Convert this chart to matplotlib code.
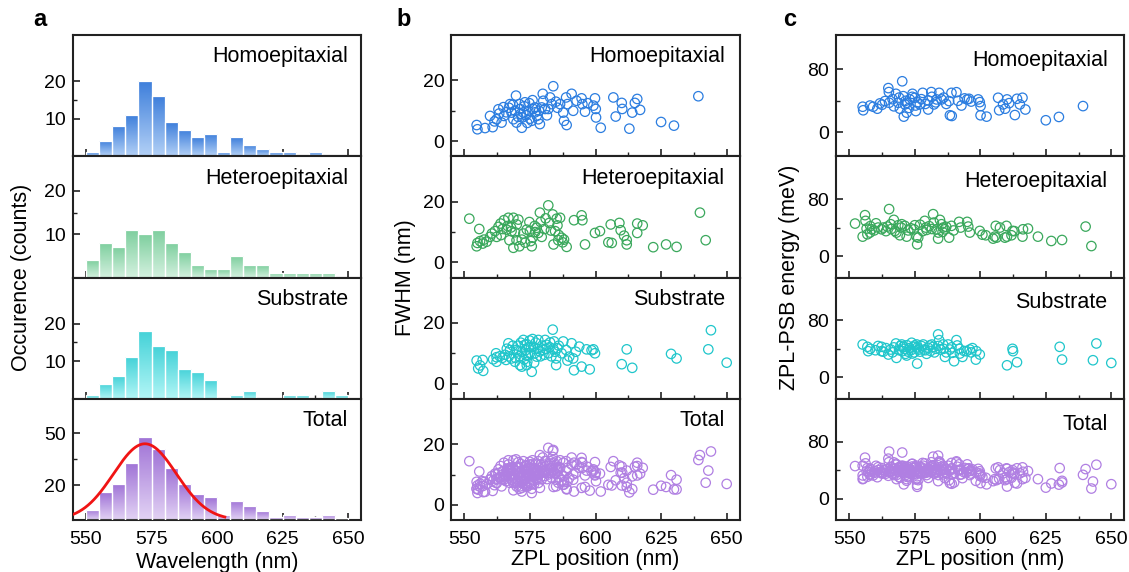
import numpy as np
import matplotlib
matplotlib.use('Agg')
import matplotlib.pyplot as plt
from matplotlib.colors import LinearSegmentedColormap

plt.rcParams['font.family'] = ['Liberation Sans', 'DejaVu Sans']

# ---- histogram counts (5 nm bins from 550 to 650) ----
bin_left = np.arange(550, 650, 5)
homo_counts = [1, 4, 8, 11, 20, 16, 9, 7, 5, 6, 1, 5, 3, 2, 1, 1, 0, 1, 0, 0]
hetero_counts = [4, 8, 7, 11, 10, 11, 8, 6, 3, 2, 2, 5, 3, 3, 1, 1, 1, 1, 1, 0]
sub_counts = [1, 4, 6, 11, 18, 14, 13, 8, 7, 5, 0, 1, 2, 0, 0, 1, 1, 0, 2, 1]

# gaussian fit on total histogram
fit_amp = 44.0
fit_center = 572.5
fit_sigma = 12.0
fit_range = (545, 603)

# ---- FWHM vs ZPL (panel b) ----
homo_fw_x = [554.7, 555.0, 557.9, 559.8, 560.8, 562.3, 563.3, 564.2, 564.9, 565.1, 567.4, 568.0, 568.7,
             569.3, 569.7, 569.9, 571.0, 571.2, 571.9, 572.1, 572.5, 573.1, 574.4, 575.0, 575.7, 576.3,
             576.9, 577.6, 578.2, 578.8, 579.5, 579.9, 580.1, 580.8, 582.0, 582.7, 583.3, 583.9, 584.9,
             586.5, 587.7, 588.0, 588.8, 589.0, 589.3, 590.9, 592.8, 594.7, 595.0, 596.0, 599.2, 599.8,
             600.1, 600.2, 602.0, 606.8, 607.7, 610.0, 610.2, 612.9, 614.0, 615.0, 615.9, 617.0, 625.0,
             629.9, 639.2, 561.5, 563.0, 566.0, 567.0, 568.5, 570.5, 571.5, 572.8, 573.5, 574.0, 574.8,
             576.0, 577.0, 578.5, 581.5, 585.5, 591.5, 597.0]
homo_fw_y = [5.3, 3.9, 4.3, 8.3, 4.6, 7.2, 9.1, 6.1, 11.2, 8.3, 12.2, 9.4, 7.2, 10.0, 15.0, 6.1, 12.2,
             10.6, 4.4, 7.8, 9.4, 12.8, 10.0, 7.4, 6.7, 10.6, 11.1, 8.3, 7.2, 5.6, 11.1, 15.6, 13.3, 10.6,
             10.6, 14.4, 12.2, 18.1, 13.0, 12.2, 9.4, 6.7, 14.4, 5.3, 12.2, 15.6, 13.3, 14.1, 12.2, 9.7,
             11.7, 14.1, 10.6, 7.8, 4.4, 14.4, 8.1, 12.6, 10.6, 4.1, 9.4, 12.6, 13.9, 10.3, 6.3, 5.1, 14.8,
             6.5, 10.5, 9.5, 11.0, 12.0, 8.0, 9.0, 11.5, 8.5, 6.0, 12.5, 13.5, 9.5, 10.0, 8.5, 11.0, 10.0,
             12.5]

hetero_fw_x = [551.9, 554.7, 555.0, 555.7, 556.0, 557.0, 557.5, 559.8, 561.7, 562.3, 563.0, 563.8, 564.6,
               565.1, 566.1, 566.8, 567.2, 568.0, 568.7, 568.7, 569.3, 569.9, 570.6, 571.0, 571.9, 573.8,
               574.8, 575.0, 575.3, 575.7, 576.0, 577.6, 578.2, 578.8, 579.1, 579.5, 582.0, 582.4, 583.7,
               584.0, 584.6, 585.2, 585.5, 585.8, 586.5, 587.1, 587.5, 589.0, 591.8, 594.7, 595.0, 596.0,
               599.8, 601.7, 604.9, 605.8, 606.2, 609.1, 609.6, 610.9, 611.9, 611.9, 615.9, 615.9, 618.0,
               622.0, 626.9, 630.9, 639.8, 642.0, 558.5, 560.5, 564.0, 566.5, 567.8, 570.0, 572.5, 573.2,
               576.8, 577.0, 580.5, 581.0, 583.0, 586.0, 588.0]
hetero_fw_y = [14.4, 5.3, 6.4, 11.0, 7.0, 6.2, 7.5, 8.4, 10.3, 8.4, 11.7, 12.8, 11.0, 13.9, 10.8, 14.7,
               7.3, 10.3, 14.7, 4.8, 9.9, 7.3, 14.1, 5.3, 7.5, 10.8, 13.3, 10.3, 7.0, 5.3, 8.1, 11.4, 9.7,
               16.4, 13.3, 8.4, 18.8, 13.0, 15.8, 5.9, 10.3, 14.4, 12.2, 7.3, 14.7, 8.1, 6.6, 5.1, 13.9,
               15.5, 13.9, 5.9, 9.7, 10.3, 6.6, 12.5, 6.4, 13.0, 10.6, 8.8, 7.3, 5.9, 12.8, 9.7, 12.2, 5.0,
               5.9, 5.1, 16.4, 7.3, 6.8, 9.5, 9.0, 12.0, 11.5, 12.5, 9.5, 6.5, 12.0, 10.0, 11.0, 14.5, 10.5,
               9.0, 7.5]

sub_fw_x = [554.7, 555.3, 557.0, 557.2, 562.1, 562.3, 562.3, 565.9, 566.8, 567.4, 568.0, 569.3, 569.9,
            570.2, 571.2, 571.9, 572.5, 573.1, 573.5, 573.8, 574.0, 575.0, 575.7, 576.0, 576.3, 576.6,
            577.6, 578.2, 578.8, 580.1, 580.8, 581.4, 582.7, 583.7, 584.2, 585.0, 585.0, 585.5, 587.1,
            587.7, 588.8, 589.3, 590.0, 590.9, 591.5, 591.8, 593.8, 594.7, 596.6, 597.8, 599.2, 599.8,
            610.0, 611.9, 614.0, 628.8, 630.9, 643.0, 644.0, 650.0,
            556.0, 561.0, 563.5, 564.5, 565.5, 566.2, 567.0, 568.5, 569.5, 570.5, 571.0, 571.5, 572.0,
            572.8, 573.3, 573.8, 574.3, 574.6, 574.9, 575.4, 576.8, 577.2, 578.0, 579.0, 579.6, 580.5,
            581.0, 582.0, 582.5, 583.2, 583.9, 584.6, 586.0, 592.5, 598.5]
sub_fw_y = [7.6, 5.0, 7.8, 4.2, 10.0, 8.7, 7.2, 7.8, 13.3, 11.1, 8.3, 7.2, 11.1, 10.6, 6.1, 5.6, 14.4,
            12.8, 9.4, 6.1, 7.2, 10.0, 3.9, 14.7, 12.2, 6.9, 8.9, 14.4, 10.6, 11.1, 14.4, 12.8, 13.6,
            17.8, 13.9, 8.3, 6.1, 11.7, 10.0, 13.9, 11.1, 7.6, 8.9, 13.3, 8.3, 4.4, 12.2, 5.6, 11.3, 4.7,
            11.3, 10.0, 6.4, 11.3, 5.2, 9.8, 8.3, 11.3, 17.6, 6.9,
            6.0, 8.0, 9.0, 8.5, 9.5, 11.5, 9.0, 12.5, 8.5, 12.5, 9.0, 13.5, 10.5, 8.0, 11.0, 13.0, 9.5,
            12.0, 14.2, 12.0, 10.0, 13.5, 11.5, 9.0, 12.5, 9.5, 11.5, 10.0, 12.0, 9.0, 11.5, 10.5, 12.5,
            10.5, 11.0]

# ---- ZPL-PSB energy vs ZPL (panel c) ----
homo_en_x = [555.1, 555.3, 557.9, 559.1, 560.7, 561.7, 563.6, 564.9, 565.1, 565.2, 567.8, 568.7, 569.3,
             570.2, 570.6, 570.8, 571.2, 571.9, 572.1, 573.1, 574.1, 575.0, 575.3, 575.4, 576.9, 578.0,
             580.1, 580.2, 581.3, 582.3, 583.3, 584.3, 585.2, 588.1, 588.4, 589.1, 589.0, 590.9, 592.8,
             595.0, 595.7, 599.2, 599.8, 600.1, 600.1, 602.4, 606.8, 607.2, 608.7, 610.2, 613.2, 614.0,
             615.1, 616.1, 617.2, 625.0, 630.0, 639.2,
             562.5, 566.5, 567.0, 569.0, 571.5, 572.8, 574.0, 576.0, 577.5, 579.0, 581.5, 583.0, 586.0,
             587.0, 591.5, 594.0, 596.5, 609.5, 611.0]
homo_en_y = [32.5, 28, 34, 32.5, 30, 36.7, 39.6, 56, 51, 37.5, 48.8, 37.5, 30, 64.6, 45.8, 20, 35.4, 25,
             37.5, 41.7, 48.8, 43.8, 34, 27, 35.4, 50, 29, 40.4, 51, 35.4, 41.7, 50, 41.7, 39.6, 21.7,
             20.8, 50, 50.8, 34, 41.7, 42.5, 41.7, 38.3, 33.3, 21.7, 20, 43.8, 28, 35.4, 41.7, 22, 42.5,
             35.4, 43.8, 29, 15.4, 19.6, 33.3,
             35, 42, 33, 44, 40, 31, 45, 38, 42, 36, 45, 38, 44, 36, 40, 43, 39, 30, 37]

hetero_en_x = [552.2, 555.1, 556.0, 556.2, 556.6, 556.9, 557.9, 558.5, 560.2, 562.3, 563.0, 564.5, 565.2,
               565.8, 567.0, 567.4, 568.7, 569.3, 570.0, 571.2, 571.9, 574.7, 575.0, 575.7, 575.9, 576.3,
               578.8, 579.2, 579.5, 582.0, 582.3, 583.3, 583.9, 584.6, 585.2, 585.6, 585.8, 586.5, 588.1,
               589.0, 591.9, 595.0, 595.4, 596.0, 599.8, 602.1, 604.9, 605.5, 605.9, 606.2, 609.4, 610.0,
               610.2, 611.9, 612.3, 616.1, 616.3, 618.2, 622.0, 627.1, 631.2, 640.2, 642.4,
               558.0, 559.5, 561.0, 564.0, 566.0, 568.0, 569.8, 572.5, 573.5, 577.0, 578.0, 580.5, 581.5,
               584.0, 587.0, 589.8, 592.5, 600.8, 607.5, 613.0]
hetero_en_y = [45.6, 27.3, 57.4, 49.4, 38.6, 30.6, 33, 37.6, 46, 37.6, 40, 41.4, 65.9, 44.7, 50.8, 35.3,
               43.3, 29.2, 44.7, 42.4, 27.3, 37.6, 43.3, 27.3, 16.5, 25.9, 49.4, 40, 36.7, 58.8, 47, 37.6,
               24.5, 50.8, 44.7, 33.9, 40, 37.6, 25.9, 42.4, 48, 48, 41.4, 33, 35.3, 29.2, 24.5, 27.3, 42.4,
               25.9, 25.9, 42.4, 27.3, 29.2, 35.3, 27.3, 37.6, 38.6, 27.3, 21.2, 22.6, 41.4, 14.1,
               42, 36, 40, 35, 38, 33, 40, 36, 39, 44, 35, 42, 38, 33, 41, 36, 40, 30, 40, 35]

sub_en_x = [555.1, 556.9, 557.2, 562.3, 562.3, 564.9, 565.8, 567.8, 568.0, 570.0, 570.3, 570.6, 571.9,
            573.8, 574.1, 574.4, 575.0, 575.7, 575.9, 576.7, 578.2, 578.5, 580.1, 580.7, 582.0, 583.9,
            584.3, 584.8, 585.8, 586.5, 587.7, 588.4, 589.4, 590.0, 590.9, 591.2, 592.2, 593.2, 594.7,
            596.0, 598.3, 598.5, 599.8, 610.2, 612.3, 612.5, 614.0, 630.3, 631.2, 643.0, 644.3, 650.0,
            566.5, 567.0, 569.0, 569.5, 571.0, 572.0, 572.5, 573.0, 573.5, 574.8, 571.5, 576.0, 577.0,
            577.5, 579.0, 579.5, 581.0, 581.5, 582.5, 583.0, 584.0, 586.0, 587.0, 589.0, 592.0, 593.8,
            596.5, 597.0, 558.0, 560.0, 561.0, 563.0, 564.0]
sub_en_y = [46.1, 42.8, 36.7, 42.8, 36.7, 32, 39, 47.5, 27.3, 46.1, 36.7, 42.8, 30.6, 48.5, 33.4, 42.8,
            44.7, 46.1, 19.3, 39, 46.1, 39, 41.4, 44.7, 42.8, 60.2, 52.2, 39, 46.1, 28.7, 46.1, 39, 34.4,
            22.6, 52.2, 44.7, 33.4, 28.7, 36.7, 39, 24.9, 36.7, 32, 16.9, 40, 36.7, 21.2, 42.8, 24.9, 24,
            47.5, 20.2,
            35, 42, 38, 44, 40, 45, 36, 41, 38, 35, 33, 42, 36, 44, 38, 33, 37, 46, 35, 40, 44, 40, 35,
            42, 40, 37, 35, 41, 40, 38, 44, 36, 41]

group_names = ['Homoepitaxial', 'Heteroepitaxial', 'Substrate', 'Total']
bar_top = ['#3d7edb', '#7fcf9f', '#45d2d8', '#9f72d6']
bar_bottom = ['#b2d0f6', '#d4f1df', '#b2f6f6', '#e2d2f4']
dot_colors = ['#2b7de0', '#3aa85c', '#1fc6cb', '#b07fe2']

W, H = 1129, 572
rows = [35, 156.25, 277.5, 398.75, 520]
cols = [(72.9, 361.1), (451.2, 739.8), (836.2, 1124.4)]

fig = plt.figure(figsize=(W / 100, H / 100), dpi=100)


def make_ax(col, row):
    x0, x1 = cols[col]
    y0, y1 = rows[row], rows[row + 1]
    ax = fig.add_axes([x0 / W, 1 - y1 / H, (x1 - x0) / W, (y1 - y0) / H])
    for s in ax.spines.values():
        s.set_linewidth(1.5)
        s.set_color('#222222')
    ax.set_xlim(545, 655)
    ax.set_xticks([550, 575, 600, 625, 650])
    ax.set_xticks(np.arange(562.5, 650, 25), minor=True)
    ax.tick_params(direction='in', length=5, width=1.2, labelsize=14, pad=5, color='#222222')
    ax.tick_params(axis='x', pad=8)
    ax.tick_params(which='minor', direction='in', length=3, width=1.0, color='#222222')
    if row < 3:
        ax.tick_params(labelbottom=False)
    return ax


def grad_bars(ax, counts, c_top, c_bot):
    cmap = LinearSegmentedColormap.from_list('g', [c_bot, c_top])
    grad = np.linspace(0, 1, 64).reshape(-1, 1)
    bars = ax.bar(bin_left, counts, width=5, align='edge', color='none',
                  edgecolor='white', linewidth=0.9, zorder=3)
    for b in bars:
        h = b.get_height()
        if h <= 0:
            continue
        im = ax.imshow(grad, extent=[b.get_x(), b.get_x() + b.get_width(), 0, h],
                       origin='lower', cmap=cmap, aspect='auto', zorder=2)
        im.set_clip_path(b)


total_counts = np.array(homo_counts) + np.array(hetero_counts) + np.array(sub_counts)
hist_data = [homo_counts, hetero_counts, sub_counts, total_counts]
hist_ylim = [(0, 32.3), (0, 28), (0, 32.3), (0, 70)]
hist_yticks = [[10, 20], [10, 20], [10, 20], [20, 50]]
hist_minor = [[15], [15], [15], [35]]

fw_x = [homo_fw_x, hetero_fw_x, sub_fw_x, homo_fw_x + hetero_fw_x + sub_fw_x]
fw_y = [homo_fw_y, hetero_fw_y, sub_fw_y, homo_fw_y + hetero_fw_y + sub_fw_y]
en_x = [homo_en_x, hetero_en_x, sub_en_x, homo_en_x + hetero_en_x + sub_en_x]
en_y = [homo_en_y, hetero_en_y, sub_en_y, homo_en_y + hetero_en_y + sub_en_y]
en_ylim = [(-30, 123), (-30, 140), (-30, 140), (-30, 140)]

for i in range(4):
    # panel a
    ax = make_ax(0, i)
    grad_bars(ax, hist_data[i], bar_top[i], bar_bottom[i])
    ax.set_xlim(545, 655)
    ax.set_ylim(*hist_ylim[i])
    ax.set_yticks(hist_yticks[i])
    ax.set_yticks(hist_minor[i], minor=True)
    ax.text(0.955, 0.82, group_names[i], transform=ax.transAxes, ha='right', va='center', fontsize=15.5)
    if i == 3:
        xf = np.linspace(fit_range[0], fit_range[1], 300)
        yf = fit_amp * np.exp(-(xf - fit_center) ** 2 / (2 * fit_sigma ** 2))
        ax.plot(xf, yf, color='#f01414', lw=2.0, zorder=5)
        ax.set_xlabel('Wavelength (nm)', fontsize=15.5, labelpad=3)

    # panel b
    ax = make_ax(1, i)
    ax.scatter(fw_x[i], fw_y[i], s=46, facecolors='none', edgecolors=dot_colors[i], linewidths=0.9)
    ax.set_xlim(545, 655)
    ax.set_ylim(-5, 35)
    ax.set_yticks([0, 20])
    ax.set_yticks([10], minor=True)
    ax.text(0.948, 0.82, group_names[i], transform=ax.transAxes, ha='right', va='center', fontsize=15.5)
    if i == 3:
        ax.set_xlabel('ZPL position (nm)', fontsize=15.5, labelpad=1)

    # panel c
    ax = make_ax(2, i)
    ax.scatter(en_x[i], en_y[i], s=46, facecolors='none', edgecolors=dot_colors[i], linewidths=0.9)
    ax.set_xlim(545, 655)
    ax.set_ylim(*en_ylim[i])
    ax.set_yticks([0, 80])
    ax.set_yticks([40], minor=True)
    ax.text(0.942, 0.79, group_names[i], transform=ax.transAxes, ha='right', va='center', fontsize=15.5)
    if i == 3:
        ax.set_xlabel('ZPL position (nm)', fontsize=15.5, labelpad=1)

mid = 1 - (rows[0] + rows[-1]) / 2 / H
fig.text(22 / W, mid, 'Occurence (counts)', rotation=90, ha='center', va='center', fontsize=15.5)
fig.text(405 / W, mid, 'FWHM (nm)', rotation=90, ha='center', va='center', fontsize=15.5)
fig.text(790 / W, mid, 'ZPL-PSB energy (meV)', rotation=90, ha='center', va='center', fontsize=15.5)

fig.text(40 / W, 1 - 20 / H, 'a', fontsize=17, fontweight='bold', ha='center', va='center')
fig.text(404 / W, 1 - 20 / H, 'b', fontsize=17, fontweight='bold', ha='center', va='center')
fig.text(790 / W, 1 - 20 / H, 'c', fontsize=17, fontweight='bold', ha='center', va='center')

fig.savefig('out.png', dpi=100)
